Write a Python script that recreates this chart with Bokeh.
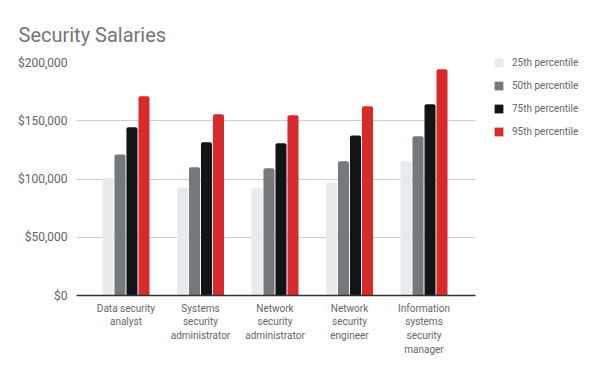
from bokeh.plotting import figure
from bokeh.models import ColumnDataSource, FixedTicker, Range1d, Legend, LegendItem, NumeralTickFormatter
from bokeh.embed import file_html
from bokeh.resources import INLINE

categories = ["Data security\nanalyst", "Systems\nsecurity\nadministrator", "Network\nsecurity\nadministrator",
              "Network\nsecurity\nengineer", "Information\nsystems\nsecurity\nmanager"]
series_names = ["25th percentile", "50th percentile", "75th percentile", "95th percentile"]
p25 = [101000, 92800, 92000, 97100, 115200]
p50 = [121000, 110000, 109200, 115200, 136700]
p75 = [144400, 131500, 130600, 137300, 164200]
p95 = [171000, 155600, 154700, 162400, 194200]
colors = ["#e8ebee", "#76797b", "#101417", "#d8292b"]

FONT = "Roboto"

p = figure(frame_width=399, frame_height=233, output_backend="svg", toolbar_location=None,
           x_range=Range1d(-0.664, 4.691), y_range=Range1d(0, 200000),
           min_border_left=76, min_border_right=125, min_border_top=62, min_border_bottom=76)
p.outline_line_color = None
p.background_fill_color = "white"

p.title.text = "Security Salaries"
p.title.text_font = FONT
p.title.text_font_size = "20px"
p.title.text_font_style = "normal"
p.title.text_color = "#757575"
p.title.offset = -58
p.title.standoff = 32

xs = list(range(len(categories)))
step = 0.161
width = 0.148
renderers = []
for i, (vals, c) in enumerate(zip([p25, p50, p75, p95], colors)):
    src = ColumnDataSource(dict(x=[x + (i - 1.5) * step for x in xs], top=vals))
    r = p.vbar(x="x", top="top", width=width, source=src, fill_color=c, line_color=None,
               border_radius=(2, 2, 0, 0))
    renderers.append(r)

legend = Legend(items=[LegendItem(label=n, renderers=[r]) for n, r in zip(series_names, renderers)],
                location=(18, 158), orientation="vertical")
legend.label_text_font = FONT
legend.label_text_font_size = "10px"
legend.label_text_color = "#666666"
legend.glyph_width = 11
legend.glyph_height = 11
legend.label_height = 11
legend.label_standoff = 8
legend.spacing = 12
legend.padding = 0
legend.margin = 0
legend.border_line_color = None
legend.background_fill_alpha = 0
p.add_layout(legend, "right")

# y axis
p.yaxis.ticker = FixedTicker(ticks=[0, 50000, 100000, 150000, 200000])
p.yaxis.formatter = NumeralTickFormatter(format="$0,0")
p.yaxis.axis_line_color = None
p.yaxis.major_tick_line_color = None
p.yaxis.minor_tick_line_color = None
p.yaxis.major_label_standoff = 3
p.yaxis.major_label_text_font = FONT
p.yaxis.major_label_text_font_size = "12px"
p.yaxis.major_label_text_color = "#636363"
p.ygrid.grid_line_color = "#cccccc"
p.ygrid.grid_line_width = 1
p.ygrid.ticker = FixedTicker(ticks=[50000, 100000, 150000, 200000])

# x axis
p.xaxis.ticker = FixedTicker(ticks=xs)
p.xaxis.major_label_overrides = {i: c for i, c in enumerate(categories)}
p.xaxis.axis_line_color = "#333333"
p.xaxis.axis_line_width = 1.5
p.xaxis.major_tick_line_color = None
p.xaxis.minor_tick_line_color = None
p.xaxis.major_label_standoff = 1
p.xaxis.major_label_text_font = FONT
p.xaxis.major_label_text_font_size = "10px"
p.xaxis.major_label_text_color = "#666666"
p.xaxis.major_label_text_line_height = 1.25
p.xgrid.grid_line_color = None

open("out.html", "w").write(file_html(p, INLINE))
